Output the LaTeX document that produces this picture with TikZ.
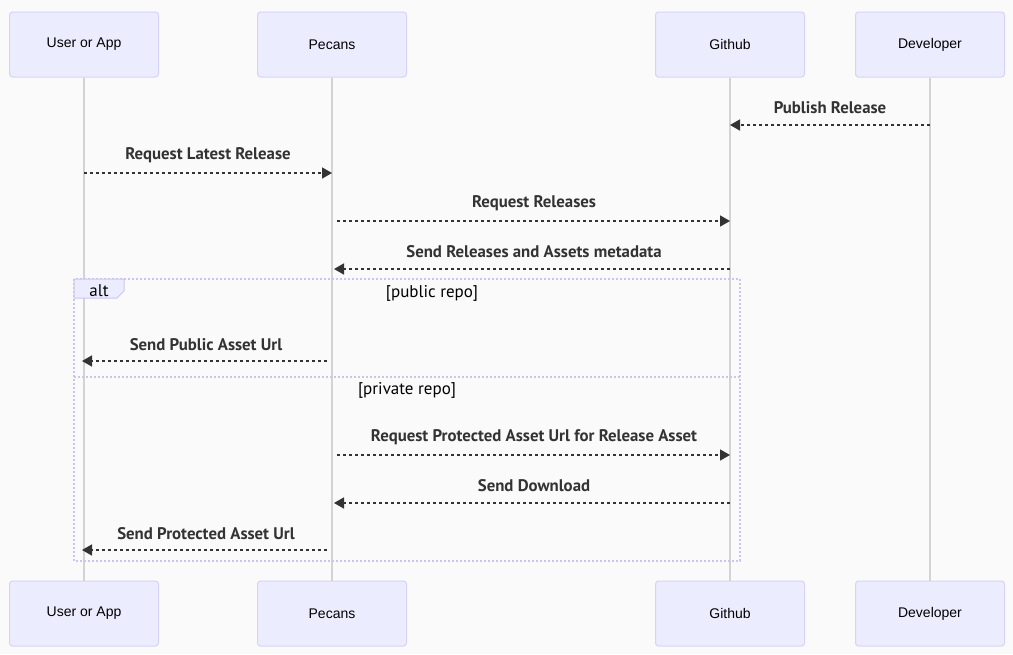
\documentclass[tikz,border=0pt]{standalone}
\usepackage{fontspec}
\setmainfont{Liberation Sans}
\newfontfamily\lblfont{PT Sans}
\usetikzlibrary{arrows.meta}
\definecolor{bgc}{RGB}{250,250,250}
\definecolor{actfill}{RGB}{236,236,255}
\definecolor{actdraw}{RGB}{218,210,245}
\definecolor{lifec}{RGB}{211,211,211}
\definecolor{msgc}{RGB}{51,51,51}
\definecolor{altc}{RGB}{204,196,240}
\tikzset{
  actor/.style={draw=actdraw, fill=actfill, rounded corners=3pt, line width=1pt,
    minimum width=149pt, minimum height=65pt, inner sep=0pt,
    font=\fontsize{14}{16}\selectfont, text=black},
  lifeline/.style={draw=lifec, line width=1.6pt},
  msg/.style={draw=msgc, line width=1.6pt, dash pattern=on 3pt off 3pt,
    -{Triangle[length=10pt,width=11pt]}},
  msglabel/.style={font=\lblfont\bfseries\fontsize{16.8}{19}\selectfont, text=msgc, inner sep=0pt},
  altframe/.style={draw=altc, line width=1.5pt, dash pattern=on 2pt off 2pt},
  condlabel/.style={font=\lblfont\fontsize{17}{19}\selectfont, text=black, inner sep=0pt}
}
\begin{document}
\begin{tikzpicture}[x=1pt,y=-1pt]
\path[fill=bgc] (0,0) rectangle (1013,654);
\useasboundingbox (0,0) rectangle (1013,654);
% actors top
\node[actor] (ua) at (84,44.5) {User or App};
\node[actor] (pe) at (332,44.5) {Pecans};
\node[actor] (gh) at (730,44.5) {Github};
\node[actor] (dv) at (930,44.5) {Developer};
% actors bottom
\node[actor] (ua2) at (84,613.5) {User or App};
\node[actor] (pe2) at (332,613.5) {Pecans};
\node[actor] (gh2) at (730,613.5) {Github};
\node[actor] (dv2) at (930,613.5) {Developer};
% lifelines
\draw[lifeline] (ua.south) -- (ua2.north);
\draw[lifeline] (pe.south) -- (pe2.north);
\draw[lifeline] (gh.south) -- (gh2.north);
\draw[lifeline] (dv.south) -- (dv2.north);
% alt frame
\coordinate (altTL) at (74,279);
\coordinate (altBR) at (740,561);
\draw[altframe] (altTL) rectangle (altBR);
\draw[altframe] (74,377) -- (740,377);
\path[draw=altc, fill=actfill, line width=1pt] (74,279) -- (124,279) -- (124,291) -- (117,298) -- (74,298) -- cycle;
\node[condlabel] (altlbl) at (99,291) {alt};
\node[condlabel] (pubc) at (432,293) {[public repo]};
\node[condlabel] (privc) at (407,390) {[private repo]};
% messages
\draw[msg] (dv.south |- 0,125) -- (gh.south |- 0,125);
\node[msglabel] (l1) at (830,107.5) {Publish Release};
\draw[msg] (ua.south |- 0,173) -- (pe.south |- 0,173);
\node[msglabel] (l2) at (208,155.5) {Request Latest Release};
\draw[msg] ([xshift=5pt]pe.south |- 0,221) -- (gh.south |- 0,221);
\node[msglabel] (l3) at (534,203.5) {Request Releases};
\draw[msg] (gh.south |- 0,269) -- ([xshift=2pt]pe.south |- 0,269);
\node[msglabel] (l4) at (534,251.5) {Send Releases and Assets metadata};
\draw[msg] ([xshift=-5pt]pe.south |- 0,361) -- ([xshift=-2pt]ua.south |- 0,361);
\node[msglabel] (l5) at (206,344.5) {Send Public Asset Url};
\draw[msg] ([xshift=5pt]pe.south |- 0,455) -- (gh.south |- 0,455);
\node[msglabel] (l6) at (534,437.5) {Request Protected Asset Url for Release Asset};
\draw[msg] (gh.south |- 0,503) -- ([xshift=2pt]pe.south |- 0,503);
\node[msglabel] (l7) at (534,485.5) {Send Download};
\draw[msg] ([xshift=-5pt]pe.south |- 0,550) -- ([xshift=-2pt]ua.south |- 0,550);
\node[msglabel] (l8) at (206,533.5) {Send Protected Asset Url};
\end{tikzpicture}
\end{document}
